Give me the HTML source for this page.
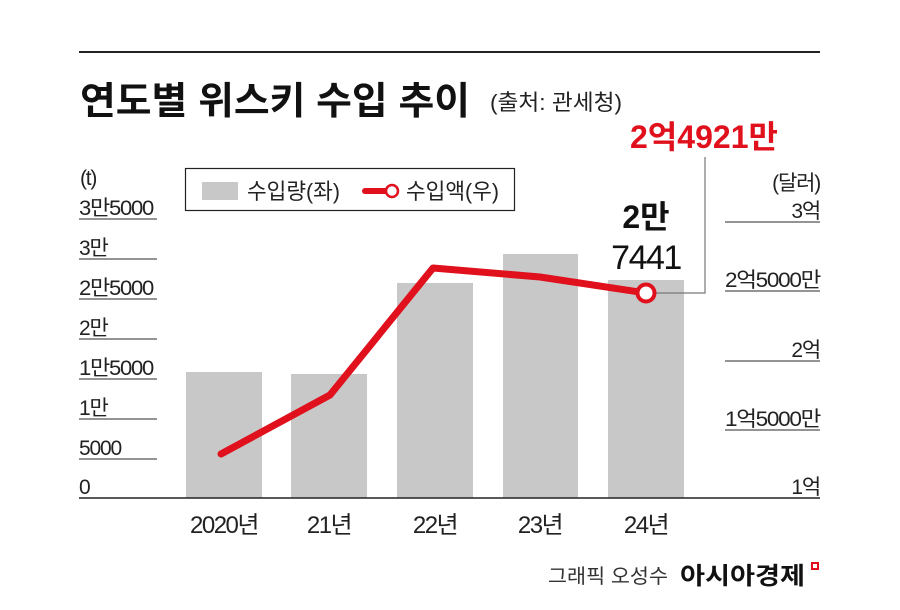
<!DOCTYPE html>
<html><head><meta charset="utf-8"><style>
body{margin:0;background:#fff}
svg text{font-family:"Liberation Sans","Noto Sans CJK KR",sans-serif}
</style></head><body>
<svg width="900" height="605" viewBox="0 0 900 605" xmlns="http://www.w3.org/2000/svg">
<rect width="900" height="605" fill="#fff"/>
<line x1="79" y1="52" x2="820" y2="52" stroke="#222" stroke-width="2"/>
<text x="80" y="114" font-size="38" font-weight="bold" fill="#111" textLength="390" lengthAdjust="spacingAndGlyphs">연도별 위스키 수입 추이</text>
<text x="490" y="110" font-size="22" fill="#222" textLength="132" lengthAdjust="spacingAndGlyphs">(출처: 관세청)</text>
<text x="630" y="148" font-size="32" font-weight="bold" fill="#e0101d" textLength="148" lengthAdjust="spacingAndGlyphs">2억4921만</text>
<g stroke="#555" stroke-width="1.2">
<line x1="79" y1="219" x2="157" y2="219"/><line x1="79" y1="259" x2="157" y2="259"/>
<line x1="79" y1="299" x2="157" y2="299"/><line x1="79" y1="339" x2="157" y2="339"/>
<line x1="79" y1="379" x2="157" y2="379"/><line x1="79" y1="419" x2="157" y2="419"/>
<line x1="79" y1="459" x2="157" y2="459"/>
<line x1="725" y1="222" x2="820" y2="222"/><line x1="725" y1="291" x2="820" y2="291"/>
<line x1="725" y1="361" x2="820" y2="361"/><line x1="725" y1="430" x2="820" y2="430"/>
</g>
<g font-size="21" fill="#222" letter-spacing="-1.2">
<text x="80" y="185">(t)</text>
<text x="79" y="215" textLength="74" lengthAdjust="spacingAndGlyphs">3만5000</text><text x="79" y="255">3만</text>
<text x="79" y="295" textLength="74" lengthAdjust="spacingAndGlyphs">2만5000</text><text x="79" y="335">2만</text>
<text x="79" y="375" textLength="74" lengthAdjust="spacingAndGlyphs">1만5000</text><text x="79" y="415">1만</text>
<text x="79" y="455">5000</text><text x="79" y="494">0</text>
</g>
<g font-size="21" fill="#222" letter-spacing="-1.2" text-anchor="end">
<text x="820" y="190">(달러)</text><text x="820" y="218">3억</text>
<text x="820" y="287" textLength="95" lengthAdjust="spacingAndGlyphs">2억5000만</text><text x="820" y="357">2억</text>
<text x="820" y="426" textLength="95" lengthAdjust="spacingAndGlyphs">1억5000만</text><text x="820" y="494">1억</text>
</g>
<g fill="#c8c8c8">
<rect x="186" y="372" width="76" height="126"/><rect x="291" y="374" width="76" height="124"/>
<rect x="397" y="283" width="76" height="215"/><rect x="503" y="254" width="75" height="244"/>
<rect x="608" y="280" width="76" height="218"/>
</g>
<line x1="79" y1="498" x2="820" y2="498" stroke="#222" stroke-width="1.5"/>
<polyline points="221,454 330,395 433,268 540,277 646,293" fill="none" stroke="#e0101d" stroke-width="7" stroke-linejoin="round" stroke-linecap="round"/>
<polyline points="655,293 705,293 705,157" fill="none" stroke="#777" stroke-width="1.2"/>
<circle cx="646" cy="293" r="8.5" fill="#fff" stroke="#e0101d" stroke-width="4"/>
<text x="646" y="228" font-size="32" font-weight="bold" fill="#111" text-anchor="middle">2만</text>
<text x="646" y="269" font-size="34" fill="#111" text-anchor="middle" letter-spacing="-1.5">7441</text>
<rect x="185.5" y="168.5" width="329" height="42" fill="#fff" stroke="#222" stroke-width="1.2"/>
<rect x="202" y="182" width="36" height="18" fill="#c8c8c8"/>
<text x="247" y="199" font-size="22" fill="#222" textLength="93" lengthAdjust="spacingAndGlyphs">수입량(좌)</text>
<line x1="365" y1="191" x2="385" y2="191" stroke="#e0101d" stroke-width="6" stroke-linecap="round"/>
<circle cx="392" cy="191" r="6" fill="#fff" stroke="#e0101d" stroke-width="2.5"/>
<text x="406" y="199" font-size="22" fill="#222" textLength="93" lengthAdjust="spacingAndGlyphs">수입액(우)</text>
<g font-size="24" fill="#222" text-anchor="middle" letter-spacing="-1.5">
<text x="224" y="533">2020년</text><text x="329" y="533">21년</text>
<text x="435" y="533">22년</text><text x="540" y="533">23년</text><text x="646" y="533">24년</text>
</g>
<text x="548" y="583" font-size="20" fill="#333" textLength="120" lengthAdjust="spacingAndGlyphs">그래픽 오성수</text>
<text x="680" y="584" font-size="24" font-weight="bold" fill="#111" textLength="125" lengthAdjust="spacingAndGlyphs">아시아경제</text>
<path d="M812 563 h6 v6 h-6 z" fill="none" stroke="#e0101d" stroke-width="2"/>
</svg>
</body></html>
